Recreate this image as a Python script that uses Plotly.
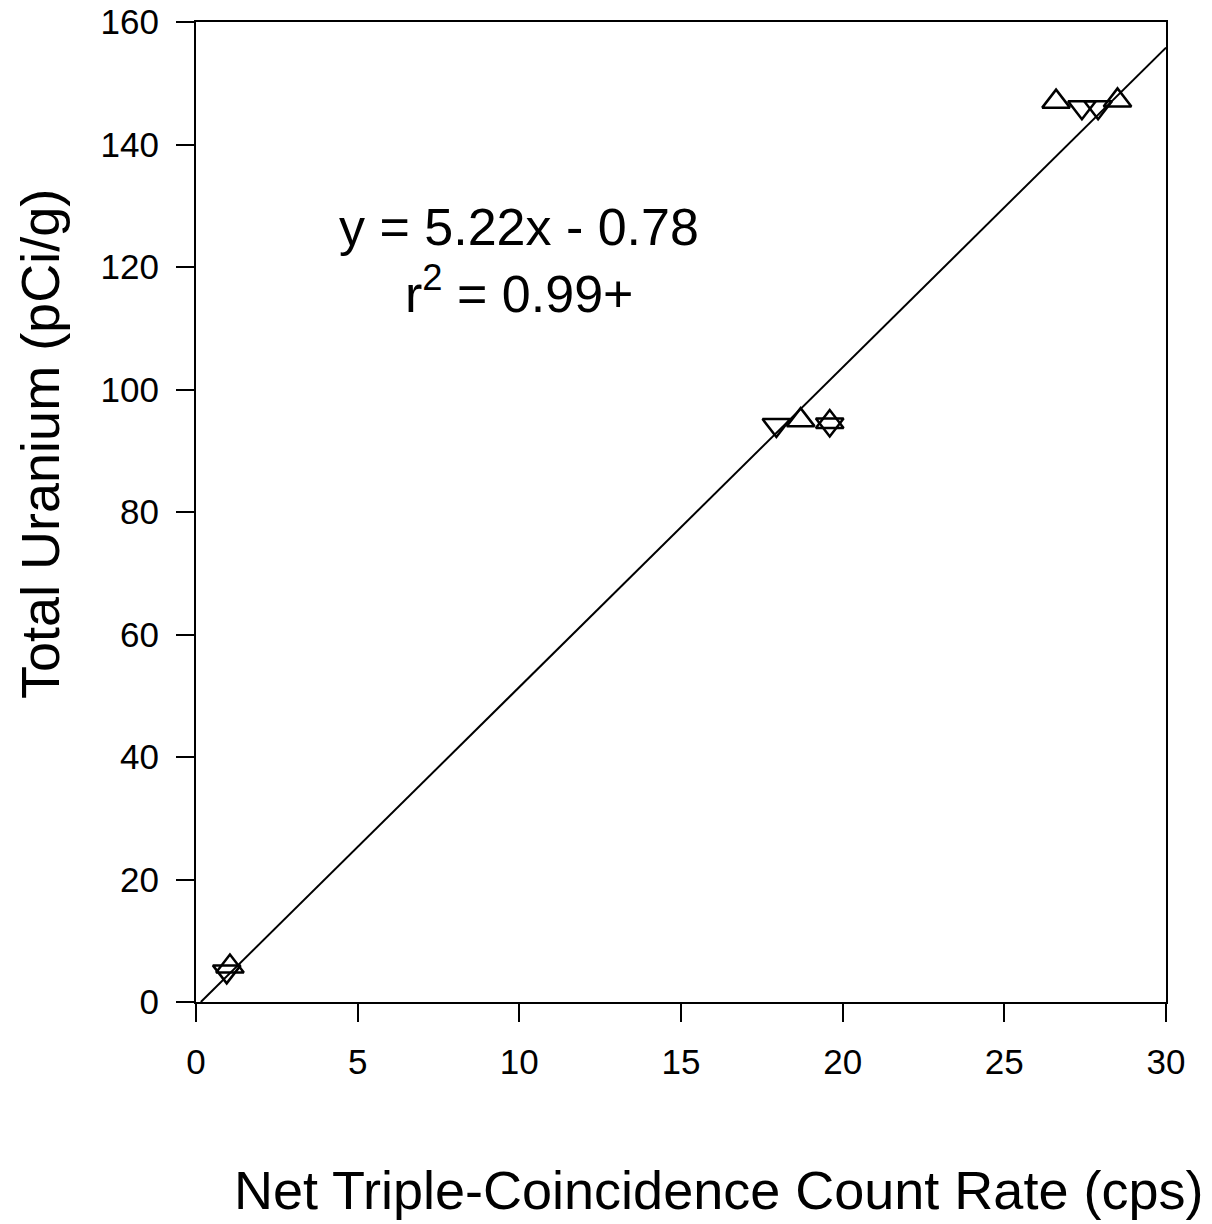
import plotly.graph_objects as go

# Data
up_x = [1.05, 18.7, 19.6, 26.6, 28.5]
up_y = [5.8, 95.0, 94.7, 147.0, 147.2]
down_x = [0.95, 17.95, 19.6, 27.4, 27.9]
down_y = [5.0, 94.2, 94.3, 146.1, 146.1]

slope = 5.22
intercept = -0.78
x_max = 30

x_ticks = [0, 5, 10, 15, 20, 25, 30]
y_ticks = [0, 20, 40, 60, 80, 100, 120, 140, 160]

fit_x = [-intercept / slope, x_max]
fit_y = [slope * v + intercept for v in fit_x]

FONT = "Liberation Sans, Arial, sans-serif"

fig = go.Figure()
fig.add_trace(go.Scatter(x=fit_x, y=fit_y, mode="lines",
                         line=dict(color="black", width=2), showlegend=False))
fig.add_trace(go.Scatter(x=up_x, y=up_y, mode="markers", showlegend=False,
                         marker=dict(symbol="triangle-up-open", size=24, color="black",
                                     line=dict(width=2.5, color="black"))))
fig.add_trace(go.Scatter(x=down_x, y=down_y, mode="markers", showlegend=False,
                         marker=dict(symbol="triangle-down-open", size=24, color="black",
                                     line=dict(width=2.5, color="black"))))

fig.update_layout(
    width=1212, height=1224,
    margin=dict(l=196, r=46, t=22, b=222, autoexpand=False),
    paper_bgcolor="white", plot_bgcolor="white",
    font=dict(family=FONT, size=35, color="black"),
    annotations=[
        dict(x=10, y=126.5, xref="x", yref="y", text="y = 5.22x - 0.78",
             showarrow=False, font=dict(family=FONT, size=52, color="black")),
        dict(x=10, y=116.3, xref="x", yref="y", text="r<sup>2</sup> = 0.99+",
             showarrow=False, font=dict(family=FONT, size=52, color="black")),
        dict(text="Net Triple-Coincidence Count Rate (cps)", xref="paper", yref="paper",
             x=(718 - 196) / 970, y=-(1190 - 1002) / 980, showarrow=False,
             xanchor="center", yanchor="middle", font=dict(family=FONT, size=54, color="black")),
        dict(text="Total Uranium (pCi/g)", xref="paper", yref="paper",
             x=-(196 - 40) / 970, y=(1002 - 444) / 980, showarrow=False, textangle=-90,
             xanchor="center", yanchor="middle", font=dict(family=FONT, size=54, color="black")),
    ],
)
fig.update_xaxes(range=[0, 30], tickvals=x_ticks, ticks="outside", ticklen=18, tickwidth=2,
                 tickcolor="black", showline=True, linecolor="black", linewidth=2, mirror=True,
                 showgrid=False, zeroline=False, ticklabelstandoff=10)
fig.update_yaxes(range=[0, 160], tickvals=y_ticks, ticks="outside", ticklen=18, tickwidth=2,
                 tickcolor="black", showline=True, linecolor="black", linewidth=2, mirror=True,
                 showgrid=False, zeroline=False, ticklabelstandoff=10)

fig.write_html("out.html")
